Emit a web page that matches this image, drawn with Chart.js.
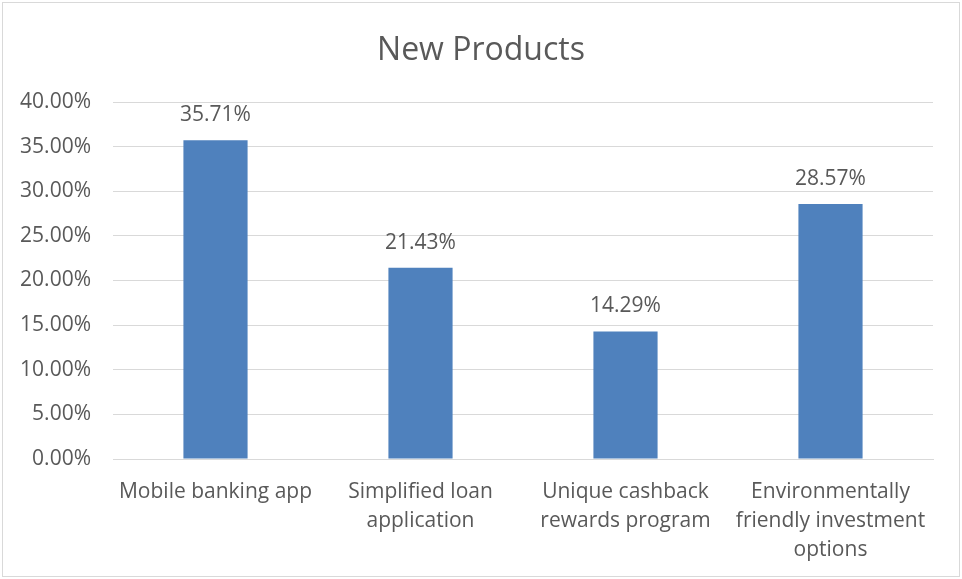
<!DOCTYPE html>
<html>
<head>
<meta charset="utf-8">
<script src="https://cdn.jsdelivr.net/npm/chart.js@4.4.0/dist/chart.umd.min.js"></script>
<style>
html,body{margin:0;padding:0;background:#fff;}
#wrap{position:absolute;left:0;top:0;width:962px;height:579px;}
</style>
</head>
<body>
<div id="wrap"><canvas id="c" width="962" height="579"></canvas></div>
<script>
const categories = [
  ["Mobile banking app"],
  ["Simplified loan", "application"],
  ["Unique cashback", "rewards program"],
  ["Environmentally", "friendly investment", "options"]
];
const values = [0.3571, 0.2143, 0.1429, 0.2857];
const valueLabels = ["35.71%", "21.43%", "14.29%", "28.57%"];
const chartTitle = "New Products";

const FONT = "'Open Sans', 'Liberation Sans', sans-serif";
const TXT = "#595959";

const borderPlugin = {
  id: 'frame',
  beforeDraw(chart) {
    const ctx = chart.ctx;
    ctx.save();
    ctx.fillStyle = '#fff';
    ctx.fillRect(0, 0, chart.width, chart.height);
    ctx.strokeStyle = '#d9d9d9';
    ctx.lineWidth = 1;
    ctx.strokeRect(2.5, 2.5, chart.width - 5, chart.height - 5);
    ctx.restore();
  }
};

const dataLabelPlugin = {
  id: 'dataLabels',
  afterDatasetsDraw(chart) {
    const ctx = chart.ctx;
    const meta = chart.getDatasetMeta(0);
    ctx.save();
    ctx.fillStyle = TXT;
    ctx.font = "21px " + FONT;
    ctx.textAlign = 'center';
    ctx.textBaseline = 'middle';
    meta.data.forEach((bar, i) => {
      ctx.fillText(valueLabels[i], bar.x, bar.y - 25);
    });
    ctx.restore();
  }
};

new Chart(document.getElementById('c'), {
  type: 'bar',
  data: {
    labels: categories,
    datasets: [{
      data: values,
      backgroundColor: '#4f81bd',
      borderWidth: 0,
      barPercentage: 0.313,
      categoryPercentage: 1.0
    }]
  },
  plugins: [borderPlugin, dataLabelPlugin],
  options: {
    responsive: false,
    animation: false,
    devicePixelRatio: 1,
    layout: { padding: { left: 0, right: 0, top: 0, bottom: 0 } },
    plugins: {
      legend: { display: false },
      tooltip: { enabled: false },
      title: {
        display: true,
        text: chartTitle,
        color: TXT,
        font: { family: FONT, size: 32, weight: 'normal', lineHeight: 1.2 },
        padding: { top: 32, bottom: 31.6 }
      }
    },
    scales: {
      x: {
        grid: { display: false, drawTicks: false },
        border: { display: true, color: '#d9d9d9', width: 1 },
        ticks: {
          color: TXT,
          font: { family: FONT, size: 21, lineHeight: 1.38 },
          padding: 18.5,
          maxRotation: 0,
          autoSkip: false
        },
        afterFit(scale) { scale.height = 120; }
      },
      y: {
        min: 0,
        max: 0.4,
        grid: { color: '#d9d9d9', drawTicks: false, lineWidth: 1 },
        border: { display: false },
        ticks: {
          stepSize: 0.05,
          color: TXT,
          font: { family: FONT, size: 21 },
          padding: 22,
          callback: v => (v * 100).toFixed(2) + '%'
        },
        afterFit(scale) { scale.width = 113; }
      },
      yRight: {
        position: 'right',
        min: 0,
        max: 0.4,
        grid: { display: false, drawTicks: false },
        border: { display: false },
        ticks: { display: false },
        afterFit(scale) { scale.width = 29; }
      }
    }
  }
});
</script>
</body>
</html>
